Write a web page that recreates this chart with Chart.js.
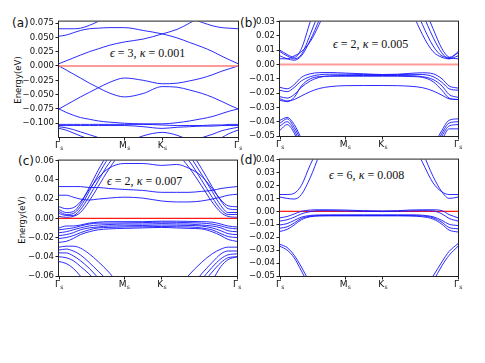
<!DOCTYPE html>
<html>
<head>
<meta charset="utf-8">
<script src="https://cdn.jsdelivr.net/npm/chart.js@4.4.0/dist/chart.umd.min.js"></script>
<style>
    body { margin: 0; background: #fff; width: 485px; height: 363px; position: relative; overflow: hidden; font-family: "DejaVu Sans", sans-serif; }
    canvas { position: absolute; }
    .lbl { position: absolute; font-size: 12px; line-height: 1; color: #111; }
    .note { position: absolute; font-family: "Liberation Serif", serif; font-size: 12px; line-height: 1; white-space: nowrap; color: #111; }
    .ytitle { position: absolute; font-size: 8.5px; line-height: 1; white-space: nowrap; color: #111; transform: translate(-50%, -50%) rotate(-90deg); }
</style>
</head>
<body>
<div class="lbl" style="left:12px;top:17px">(a)</div>
<div class="lbl" style="left:240px;top:17px">(b)</div>
<div class="lbl" style="left:18px;top:155px">(c)</div>
<div class="lbl" style="left:240px;top:154px">(d)</div>
<div class="note" style="left:110px;top:47px"><i>ϵ</i> = 3, <i>κ</i> = 0.001</div>
<div class="note" style="left:333px;top:38px"><i>ϵ</i> = 2, <i>κ</i> = 0.005</div>
<div class="note" style="left:107px;top:175px"><i>ϵ</i> = 2, <i>κ</i> = 0.007</div>
<div class="note" style="left:329px;top:169px"><i>ϵ</i> = 6, <i>κ</i> = 0.008</div>
<div class="ytitle" style="left:18px;top:80px">Energy(eV)</div>
<div class="ytitle" style="left:22px;top:220px">Energy(eV)</div>
<script>
// k-path positions (Γ -> M -> K -> Γ, normalised length)
const KX = [0, 0.04, 0.08, 0.12, 0.17, 0.22, 0.28, 0.366, 0.47, 0.577, 0.66, 0.73, 0.8, 0.86, 0.91, 0.95, 1];
const X_TICKS = [0, 0.366, 0.577, 1];
const X_LABELS = ['Γ', 'M', 'K', 'Γ'];

const Y_TICKS_A = [-0.1, -0.075, -0.05, -0.025, 0, 0.025, 0.05, 0.075];
const Y_TICKS_B = [-0.05, -0.04, -0.03, -0.02, -0.01, 0, 0.01, 0.02, 0.03];
const Y_TICKS_C = [-0.06, -0.04, -0.02, 0, 0.02, 0.04, 0.06];
const Y_TICKS_D = [-0.05, -0.04, -0.03, -0.02, -0.01, 0, 0.01, 0.02, 0.03, 0.04];

// (a) eps=3, kappa=0.001
const aU1 = [0.004, 0.009, 0.014, 0.019, 0.025, 0.030, 0.036, 0.042, 0.047, 0.056, 0.064, 0.075, 0.088, 0.100, 0.108, 0.112, 0.115];
const aU2 = [0.065, 0.065, 0.065, 0.066, 0.071, 0.078, 0.088, 0.100, 0.105, 0.100, 0.092, 0.084, 0.076, 0.070, 0.067, 0.066, 0.065];
const aU3 = [0.052, 0.054, 0.058, 0.062, 0.065, 0.066, 0.067, 0.067, 0.062, 0.056, 0.049, 0.041, 0.033, 0.025, 0.017, 0.011, 0.004];
const aL1 = [0.000, -0.007, -0.014, -0.021, -0.030, -0.038, -0.047, -0.054, -0.048, -0.036, -0.037, -0.042, -0.048, -0.055, -0.062, -0.068, -0.075];
const aL2 = [-0.075, -0.068, -0.061, -0.054, -0.046, -0.038, -0.029, -0.021, -0.025, -0.031, -0.030, -0.026, -0.021, -0.015, -0.009, -0.005, 0.000];
const aB1 = [-0.075, -0.081, -0.086, -0.090, -0.093, -0.096, -0.098, -0.100, -0.101, -0.101, -0.099, -0.096, -0.092, -0.088, -0.083, -0.079, -0.075];
const aB2 = [-0.102, -0.102, -0.102, -0.102, -0.102, -0.102, -0.102, -0.102, -0.102, -0.103, -0.104, -0.104, -0.104, -0.103, -0.103, -0.102, -0.102];
const aB3 = [-0.104, -0.104, -0.104, -0.104, -0.104, -0.104, -0.104, -0.104, -0.106, -0.109, -0.107, -0.106, -0.105, -0.105, -0.104, -0.104, -0.104];
const aB4 = [-0.106, -0.108, -0.111, -0.115, -0.120, -0.125, -0.131, -0.136, -0.136, -0.134, -0.134, -0.131, -0.125, -0.119, -0.113, -0.110, -0.107];
const aB5 = [-0.109, -0.112, -0.117, -0.122, -0.128, -0.134, -0.140, -0.135, -0.122, -0.116, -0.121, -0.130, -0.140, -0.134, -0.125, -0.118, -0.112];

// (b) eps=2, kappa=0.005
const bU1 = [0.010, 0.007, 0.005, 0.011, 0.030, 0.048, 0.065, 0.080, 0.085, 0.085, 0.075, 0.042, 0.021, 0.009, 0.005, 0.004, 0.009];
const bU2 = [0.009, 0.006, 0.004, 0.007, 0.021, 0.037, 0.055, 0.075, 0.085, 0.085, 0.080, 0.050, 0.028, 0.013, 0.006, 0.005, 0.008];
const bU3 = [0.006, 0.004, 0.003, 0.006, 0.017, 0.031, 0.048, 0.070, 0.085, 0.085, 0.085, 0.058, 0.036, 0.019, 0.008, 0.004, 0.006];
const bU4 = [0.004, 0.004, 0.006, 0.009, 0.016, 0.028, 0.045, 0.068, 0.085, 0.085, 0.085, 0.064, 0.043, 0.025, 0.011, 0.005, 0.004];
const bF1 = [-0.016, -0.017, -0.014, -0.009, -0.0065, -0.0057, -0.0056, -0.006, -0.0065, -0.007, -0.0068, -0.0062, -0.0058, -0.0065, -0.010, -0.015, -0.0165];
const bF2 = [-0.018, -0.019, -0.016, -0.0115, -0.0085, -0.0072, -0.0068, -0.0068, -0.007, -0.0072, -0.0071, -0.0069, -0.007, -0.0085, -0.0125, -0.017, -0.018];
const bF3 = [-0.0225, -0.0235, -0.021, -0.016, -0.0115, -0.009, -0.008, -0.0077, -0.0077, -0.0077, -0.0077, -0.0078, -0.0085, -0.0105, -0.015, -0.021, -0.023];
const bF4 = [-0.024, -0.0255, -0.0245, -0.022, -0.019, -0.0168, -0.0155, -0.0148, -0.0147, -0.0147, -0.0148, -0.0152, -0.0162, -0.0185, -0.0215, -0.024, -0.0245];
const bF5 = [-0.025, -0.026, -0.023, -0.015, -0.010, -0.0085, -0.0082, -0.0082, -0.0082, -0.0082, -0.0082, -0.0084, -0.009, -0.012, -0.018, -0.0235, -0.0245];
const bL1 = [-0.039, -0.037, -0.042, -0.052, -0.066, -0.080, -0.090, -0.090, -0.090, -0.090, -0.090, -0.088, -0.075, -0.058, -0.046, -0.039, -0.038];
const bL2 = [-0.041, -0.038, -0.044, -0.054, -0.068, -0.083, -0.090, -0.090, -0.090, -0.090, -0.090, -0.089, -0.078, -0.061, -0.048, -0.041, -0.040];
const bL3 = [-0.043, -0.040, -0.046, -0.057, -0.070, -0.085, -0.090, -0.090, -0.090, -0.090, -0.090, -0.090, -0.080, -0.063, -0.050, -0.043, -0.042];
const bL4 = [-0.046, -0.042, -0.048, -0.060, -0.072, -0.087, -0.090, -0.090, -0.090, -0.090, -0.090, -0.090, -0.082, -0.066, -0.053, -0.045, -0.045];

// (c) eps=2, kappa=0.007
const cU1 = [0.033, 0.033, 0.033, 0.033, 0.032, 0.032, 0.031, 0.030, 0.029, 0.027, 0.027, 0.027, 0.028, 0.029, 0.031, 0.032, 0.033];
const cU2 = [0.024, 0.024, 0.022, 0.020, 0.019, 0.020, 0.021, 0.022, 0.021, 0.018, 0.017, 0.017, 0.018, 0.020, 0.022, 0.024, 0.025];
const cS1 = [0.012, 0.010, 0.011, 0.017, 0.030, 0.042, 0.052, 0.057, 0.057, 0.055, 0.056, 0.052, 0.044, 0.031, 0.019, 0.013, 0.012];
const cS2 = [0.009, 0.006, 0.007, 0.015, 0.032, 0.050, 0.068, 0.080, 0.085, 0.085, 0.085, 0.072, 0.052, 0.033, 0.018, 0.010, 0.009];
const cS3 = [0.007, 0.004, 0.005, 0.012, 0.028, 0.045, 0.063, 0.078, 0.085, 0.085, 0.080, 0.066, 0.046, 0.028, 0.013, 0.006, 0.006];
const cS4 = [0.005, 0.003, 0.003, 0.009, 0.023, 0.039, 0.057, 0.075, 0.085, 0.085, 0.075, 0.060, 0.040, 0.022, 0.009, 0.004, 0.004];
const cS5 = [0.002, 0.001, 0.002, 0.006, 0.018, 0.033, 0.051, 0.072, 0.080, 0.080, 0.068, 0.053, 0.034, 0.017, 0.006, 0.002, 0.001];
const cF1 = [-0.010, -0.008, -0.008, -0.007, -0.005, -0.004, -0.0035, -0.0035, -0.0035, -0.003, -0.003, -0.0032, -0.0035, -0.004, -0.006, -0.008, -0.009];
const cF2 = [-0.012, -0.011, -0.010, -0.008, -0.006, -0.005, -0.005, -0.0048, -0.0045, -0.004, -0.0042, -0.0045, -0.005, -0.006, -0.008, -0.010, -0.011];
const cF3 = [-0.015, -0.014, -0.012, -0.010, -0.008, -0.007, -0.0065, -0.006, -0.006, -0.0055, -0.0058, -0.006, -0.007, -0.008, -0.010, -0.013, -0.014];
const cF4 = [-0.018, -0.017, -0.015, -0.012, -0.010, -0.009, -0.008, -0.0078, -0.0075, -0.007, -0.0072, -0.0075, -0.008, -0.010, -0.013, -0.016, -0.017];
const cF5 = [-0.021, -0.020, -0.018, -0.015, -0.012, -0.010, -0.0095, -0.009, -0.0088, -0.0085, -0.0088, -0.009, -0.010, -0.012, -0.016, -0.019, -0.020];
const cF6 = [-0.025, -0.024, -0.021, -0.017, -0.014, -0.012, -0.011, -0.0105, -0.010, -0.0095, -0.010, -0.0105, -0.011, -0.014, -0.018, -0.022, -0.024];
const cD1 = [-0.030, -0.029, -0.029, -0.031, -0.037, -0.045, -0.056, -0.075, -0.090, -0.090, -0.075, -0.059, -0.046, -0.037, -0.032, -0.030, -0.030];
const cD2 = [-0.033, -0.032, -0.034, -0.038, -0.046, -0.055, -0.066, -0.085, -0.090, -0.090, -0.090, -0.074, -0.058, -0.046, -0.037, -0.034, -0.034];
const cD3 = [-0.036, -0.036, -0.039, -0.044, -0.052, -0.062, -0.074, -0.090, -0.090, -0.090, -0.090, -0.080, -0.064, -0.051, -0.042, -0.038, -0.037];
const cD4 = [-0.040, -0.041, -0.044, -0.050, -0.058, -0.068, -0.080, -0.090, -0.090, -0.090, -0.090, -0.090, -0.070, -0.056, -0.046, -0.041, -0.040];
const cD5 = [-0.045, -0.047, -0.052, -0.060, -0.070, -0.080, -0.090, -0.090, -0.090, -0.090, -0.090, -0.090, -0.080, -0.065, -0.050, -0.043, -0.040];

// (d) eps=6, kappa=0.008
const dU1 = [0.013, 0.013, 0.014, 0.020, 0.036, 0.050, 0.065, 0.080, 0.085, 0.085, 0.080, 0.058, 0.038, 0.022, 0.015, 0.013, 0.013];
const dU2 = [0.011, 0.010, 0.0095, 0.013, 0.026, 0.043, 0.058, 0.075, 0.085, 0.085, 0.085, 0.066, 0.046, 0.027, 0.015, 0.010, 0.011];
const dF1 = [-0.005, -0.004, -0.002, 0.000, 0.001, 0.0012, 0.0012, 0.001, 0.0005, 0.0003, 0.0005, 0.001, 0.0012, 0.0012, 0.0005, -0.0025, -0.005];
const dF2 = [-0.0075, -0.0065, -0.0045, -0.002, -0.0002, 0.0005, 0.0005, 0.0003, 0.000, -0.0002, 0.000, 0.0003, 0.0005, 0.0003, -0.002, -0.0055, -0.0075];
const dF3 = [-0.0105, -0.0095, -0.007, -0.0045, -0.0032, -0.0028, -0.0027, -0.0027, -0.0027, -0.0027, -0.0027, -0.0027, -0.003, -0.0042, -0.007, -0.010, -0.011];
const dF4 = [-0.013, -0.012, -0.009, -0.0055, -0.0038, -0.0033, -0.0032, -0.0032, -0.0032, -0.0032, -0.0032, -0.0033, -0.0036, -0.005, -0.0085, -0.0125, -0.0135];
const dF5 = [-0.0155, -0.014, -0.0105, -0.0065, -0.0042, -0.0036, -0.0035, -0.0035, -0.0035, -0.0035, -0.0035, -0.0036, -0.0042, -0.006, -0.010, -0.0145, -0.016];
const dL1 = [-0.0255, -0.028, -0.034, -0.043, -0.056, -0.070, -0.080, -0.080, -0.080, -0.080, -0.080, -0.075, -0.062, -0.050, -0.039, -0.031, -0.025];
const dL2 = [-0.027, -0.030, -0.036, -0.046, -0.059, -0.072, -0.080, -0.080, -0.080, -0.080, -0.080, -0.078, -0.066, -0.054, -0.042, -0.034, -0.027];

const BANDS_A = [aU1, aU2, aU3, aL1, aL2, aB1, aB2, aB3, aB4, aB5];
const BANDS_B = [bU1, bU2, bU3, bU4, bF1, bF2, bF3, bF4, bF5, bL1, bL2, bL3, bL4];
const BANDS_C = [cU1, cU2, cS1, cS2, cS3, cS4, cS5, cF1, cF2, cF3, cF4, cF5, cF6, cD1, cD2, cD3, cD4, cD5];
const BANDS_D = [dU1, dU2, dF1, dF2, dF3, dF4, dF5, dL1, dL2];

// plot area boxes on the page: [left, top, right, bottom]
const panels = [
    { box: [59, 21, 238, 137], min: -0.124, max: 0.0775, ticks: Y_TICKS_A, dec: 3, bands: BANDS_A, red: 'rgba(255,120,120,0.75)', redW: 2.2, redOnTop: true },
    { box: [280, 21, 458, 136], min: -0.05, max: 0.03, ticks: Y_TICKS_B, dec: 2, bands: BANDS_B, red: 'rgba(255,120,120,0.75)', redW: 2.2, redOnTop: true },
    { box: [59, 160, 237, 276], min: -0.06, max: 0.06, ticks: Y_TICKS_C, dec: 2, bands: BANDS_C, red: '#ff1a1a', redW: 1.2, redOnTop: true },
    { box: [280, 159, 458, 276], min: -0.05, max: 0.04, ticks: Y_TICKS_D, dec: 2, bands: BANDS_D, red: '#ff1a1a', redW: 1.2, redOnTop: false }
];

const AXIS_W = 50, PAD_TOP = 6, PAD_RIGHT = 12, XAXIS_H = 20;

// frame (all four spines) and Γs / Ms / Ks labels
const framePlugin = {
    id: 'frame',
    afterDraw(chart) {
        const { ctx, chartArea: a } = chart;
        const x = chart.scales.x;
        ctx.save();
        ctx.strokeStyle = '#222';
        ctx.lineWidth = 1;
        ctx.strokeRect(a.left - 0.5, a.top - 0.5, a.right - a.left + 1, a.bottom - a.top + 1);
        ctx.fillStyle = '#111';
        ctx.textBaseline = 'top';
        for (let i = 0; i < X_TICKS.length; i++) {
            const px = x.getPixelForValue(X_TICKS[i]);
            ctx.font = '9px "DejaVu Sans"';
            const w1 = ctx.measureText(X_LABELS[i]).width;
            ctx.font = '6px "DejaVu Sans"';
            const w2 = ctx.measureText('s').width;
            const start = px - (w1 + w2) / 2;
            ctx.font = '9px "DejaVu Sans"';
            ctx.fillText(X_LABELS[i], start, a.bottom + 4.5);
            ctx.font = '6px "DejaVu Sans"';
            ctx.fillText('s', start + w1 + 0.3, a.bottom + 8);
        }
        ctx.restore();
    }
};

function fmt(v, dec) {
    const s = Math.abs(v).toFixed(dec);
    return (v < -1e-9 ? '−' : '') + s;
}

panels.forEach(function(p) {
    const [L, T, R, B] = p.box;
    const canvas = document.createElement('canvas');
    const w = (R - L) + AXIS_W + PAD_RIGHT;
    const h = (B - T) + PAD_TOP + XAXIS_H;
    canvas.width = w;
    canvas.height = h;
    canvas.style.width = w + 'px';
    canvas.style.height = h + 'px';
    canvas.style.left = (L - AXIS_W) + 'px';
    canvas.style.top = (T - PAD_TOP) + 'px';
    document.body.appendChild(canvas);

    const datasets = p.bands.map(band => ({
        data: KX.map((k, i) => ({ x: k, y: band[i] })),
        borderColor: 'rgba(20,20,255,0.9)',
        borderWidth: 1,
        pointRadius: 0,
        cubicInterpolationMode: 'monotone',
        fill: false,
        order: 1
    }));
    // Fermi level
    datasets.push({
        data: [{ x: 0, y: 0 }, { x: 1, y: 0 }],
        borderColor: p.red,
        borderWidth: p.redW,
        pointRadius: 0,
        fill: false,
        order: p.redOnTop ? 0 : 2
    });

    new Chart(canvas.getContext('2d'), {
        type: 'line',
        data: { datasets: datasets },
        options: {
            responsive: false,
            animation: false,
            devicePixelRatio: 1,
            events: [],
            layout: { padding: { top: PAD_TOP, right: PAD_RIGHT, left: 0, bottom: 0 } },
            plugins: { legend: { display: false }, tooltip: { enabled: false } },
            scales: {
                x: {
                    type: 'linear',
                    min: 0,
                    max: 1,
                    afterBuildTicks: s => { s.ticks = X_TICKS.map(v => ({ value: v })); },
                    afterFit: s => { s.height = XAXIS_H; },
                    ticks: { display: false, autoSkip: false },
                    grid: { drawOnChartArea: false, drawTicks: true, tickLength: 3.5, color: '#222' },
                    border: { display: false }
                },
                y: {
                    type: 'linear',
                    min: p.min,
                    max: p.max,
                    afterBuildTicks: s => { s.ticks = p.ticks.map(v => ({ value: v })); },
                    afterFit: s => { s.width = AXIS_W; },
                    ticks: {
                        autoSkip: false,
                        font: { family: 'DejaVu Sans', size: 8.5 },
                        color: '#111',
                        padding: 1.5,
                        callback: v => fmt(v, p.dec)
                    },
                    grid: { drawOnChartArea: false, drawTicks: true, tickLength: 3.5, color: '#222' },
                    border: { display: false }
                }
            }
        },
        plugins: [framePlugin]
    });
});
</script>
</body>
</html>
